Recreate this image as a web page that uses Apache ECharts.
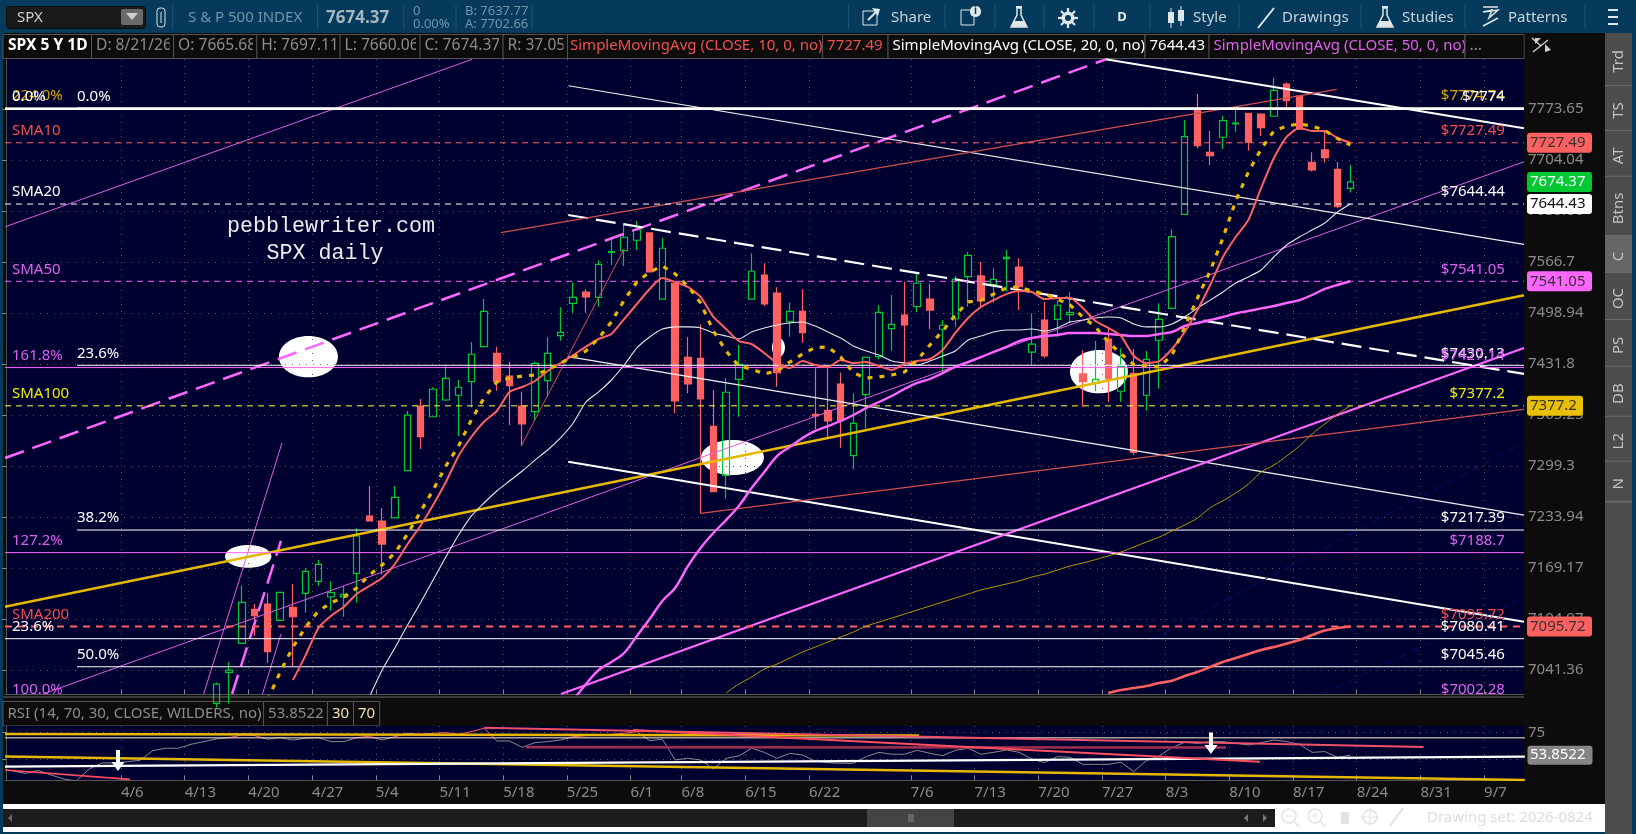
<!DOCTYPE html>
<html><head><meta charset="utf-8"><style>html,body{margin:0;padding:0;background:#053a5c}#c{width:1636px;height:834px}</style>
<script src="https://cdn.jsdelivr.net/npm/echarts@6/dist/echarts.min.js"></script></head>
<body><div id="c"></div><script>
const categories=['3/24','3/25','3/26','3/27','3/30','3/31','4/1','4/2','4/3',
'4/6','4/7','4/8','4/9','4/10','4/13','4/14','4/15','4/16','4/17','4/20','4/21','4/22','4/23','4/24','4/27','4/28','4/29','4/30','5/1',
'5/4','5/5','5/6','5/7','5/8','5/11','5/12','5/13','5/14','5/15','5/18','5/19','5/20','5/21','5/22','5/25','5/26','5/27','5/28','5/29',
'6/1','6/2','6/3','6/4','6/8','6/9','6/10','6/11','6/12','6/15','6/16','6/17','6/18','6/19','6/22','6/23','6/24','6/25','6/26','6/29','6/30','7/1',
'7/6','7/7','7/8','7/9','7/10','7/13','7/14','7/15','7/16','7/17','7/20','7/21','7/22','7/23','7/24','7/27','7/28','7/29','7/30','7/31',
'8/3','8/4','8/5','8/6','8/7','8/10','8/11','8/12','8/13','8/14','8/17','8/18','8/19','8/20','8/21',
'8/24','8/25','8/26','8/27','8/28','8/31','9/1','9/2','9/3','9/4','9/7','9/8','9/9'];
const timeTicks=['4/6','4/13','4/20','4/27','5/4','5/11','5/18','5/25','6/1','6/8','6/15','6/22','7/6','7/13','7/20','7/27','8/3','8/10','8/17','8/24','8/31','9/7'];
const priceTicks=[7773.65,7704.04,7635.06,7566.7,7498.94,7431.8,7365.25,7299.3,7233.94,7169.17,7104.97,7041.36];
const priceRange=[7011.7,7842.5];
const rsiRange=[30.7,81.06];
const rsiTicks=[50,75];
const firstCandle=16;
const opens=[7000,7038.5,7074.7,7117.2,7123.9,7103.3,7119.7,7137.3,7152.4,7133,7132.7,7162.5,7235.2,7228.9,7233,7293.3,7377,7363,7384.8,7391,7408.7,7454.6,7445.9,7416.1,7377,7369.6,7410,7469,7511.8,7526.8,7519.8,7579.7,7581.9,7595.8,7605.6,7517.4,7538.4,7440.6,7439.3,7350.6,7287.4,7411.8,7517.4,7549.4,7525.5,7487.5,7501.2,7366.2,7371.4,7405.7,7312.6,7391.8,7441.4,7478.3,7496.3,7507.3,7517.5,7477.5,7491.4,7547.2,7548.1,7536.5,7571.1,7560,7447.4,7489.7,7490.6,7496.7,7418.8,7406.6,7464.7,7396.2,7419.7,7391,7463,7505.2,7630.6,7772.3,7714.5,7735,7753.2,7767.8,7766.8,7763.7,7807.9,7791.5,7701,7717.7,7691.4,7665.68];
const highs=[7026,7051,7147.4,7123.9,7137.3,7138.6,7149,7168.8,7179.3,7152.4,7146.9,7219.6,7273.7,7245.1,7273.7,7370.5,7386.1,7401.4,7429.2,7410.9,7460.4,7517.4,7454.6,7434.8,7395.7,7434.8,7466.9,7506.5,7539.7,7530.4,7569,7599.8,7618.6,7621.7,7605.6,7598.9,7538.4,7467.4,7484,7397.9,7413.5,7456.8,7578.4,7565,7533.1,7512.4,7530.4,7426.2,7426.2,7420.4,7393.6,7441.4,7509.2,7522.8,7540.5,7550.8,7537.5,7489.7,7548.1,7580.1,7566.7,7558.3,7582.8,7571.7,7498.5,7513.9,7516,7526.4,7449.9,7462.1,7478.8,7452.5,7451.5,7448.9,7511.8,7610.5,7758.6,7794.2,7743.6,7764,7773.2,7767.8,7766.8,7817,7810.2,7791.5,7714.5,7742.6,7701.3,7697.11];
const lows=[6995,7000,7074.7,7084.1,7050.5,7103.3,7046.4,7112.9,7146.9,7115.4,7107.9,7125.4,7228.9,7161.2,7233,7293.3,7321.3,7363,7383.5,7338.1,7375.3,7454.6,7397,7352.3,7325.5,7357.9,7389.1,7462.5,7499.3,7499.3,7507.3,7562.7,7561.4,7582.8,7553.4,7517.4,7367.5,7393.6,7238.7,7266.4,7257.4,7363,7517.4,7508.3,7402,7467.7,7459.9,7347,7336.4,7323,7295.1,7348,7438,7449.3,7430.5,7500.3,7477.9,7421.8,7480.9,7507.3,7506.5,7512.4,7527.2,7502.9,7430.5,7440.1,7467.7,7485.4,7376.1,7396.6,7382.6,7382.6,7313.5,7370.9,7399.6,7505.2,7629.7,7720,7697.3,7719,7742.6,7716.7,7736.8,7763.7,7776,7746,7688.3,7700.5,7638.8,7660.06];
const closes=[7024,7041.4,7126,7109.1,7064.2,7138.6,7107.9,7165,7173.9,7138.1,7136,7209.8,7228.9,7199.6,7259.2,7365.25,7337.2,7398.8,7413.1,7401.4,7444.6,7501.2,7408.7,7403.5,7353.6,7432.7,7445.9,7473.5,7519.8,7520.2,7563.6,7580.5,7599.8,7610,7553.4,7585.1,7383.5,7405.7,7386.1,7266.4,7394.9,7431.4,7554.4,7510.9,7420.4,7501.2,7473,7364,7357.5,7357.9,7354.5,7440.6,7499.9,7484,7483.1,7538.4,7502.9,7482.8,7543.7,7575.7,7514.9,7543.7,7573,7533.9,7457.9,7442.3,7509.2,7499.9,7408.7,7411.8,7412.2,7428.8,7317,7438,7490.6,7600.6,7735.8,7723.5,7709.9,7757.7,7754.5,7728.2,7748.2,7799.3,7785,7746,7690.6,7707.2,7641,7674.37];
const sma10Start=22;
const sma10=[7029,7060,7093.8,7109.1,7120.5,7136.4,7146.5,7156.6,7174.2,7199.6,7222.5,7249.3,7278.8,7312.2,7336.8,7356.6,7370.5,7395.3,7401.8,7409.6,7422.7,7433.1,7443.6,7454.6,7464.7,7471.3,7491,7510.9,7530.8,7545.4,7540.1,7533.5,7520.2,7493.7,7477.9,7462,7458.1,7446.3,7433.1,7426.6,7435.7,7430.5,7427.9,7437,7433.1,7434.4,7429.2,7424,7431.8,7435.7,7438.4,7450.2,7472.6,7492.4,7506.9,7516,7524,7528,7526.8,7517.4,7518.8,7518.8,7505.6,7488.4,7479.2,7468.6,7442.3,7433.1,7435.7,7451.5,7473.9,7502.9,7536.1,7573.4,7600.2,7623,7666.2,7706.8,7735.4,7747.7,7743.6,7743.6,7734,7727.49];
const sma20Start=28;
const sma20=[7008,7041.4,7068.8,7097.5,7125.1,7154.1,7183.1,7211.1,7235.2,7251.9,7267.3,7280.1,7292.9,7307,7320,7335.5,7354.9,7382.2,7395.3,7410.9,7430.5,7452.9,7467.3,7477.9,7480.6,7480.6,7479.2,7472.6,7468.6,7464.7,7473.9,7479.2,7483.1,7485.8,7487.1,7481.8,7473.9,7466,7455.5,7448.9,7443.6,7435.7,7433.1,7430.5,7435.7,7442.3,7448.9,7463.4,7468.6,7473.9,7476.6,7476.6,7477.9,7475.3,7479.2,7487.1,7489.7,7492.4,7493.7,7492.4,7484.5,7480.6,7480.6,7484.5,7493.7,7505.6,7516,7526.8,7538.8,7546.8,7556.1,7573.4,7589.5,7600.2,7609.6,7619,7633.7,7644.43];
const sma50Start=44;
const sma50=[7004,7024,7041.4,7051.4,7062.6,7083.8,7105,7127.7,7144,7171.7,7194.6,7213.6,7230.1,7248,7271.1,7291.6,7312.2,7323.9,7335.5,7344.6,7351,7357.5,7365.25,7374.4,7382.2,7390,7399.2,7407,7412.2,7420,7427.9,7434.4,7441,7447.6,7454.2,7462,7466,7468.6,7470,7472.6,7472.6,7472.6,7471.3,7470,7468.6,7468.6,7471.3,7473.9,7481.8,7485.8,7489.7,7493.7,7498.3,7501.6,7505,7508.3,7512.2,7516,7522.8,7530.8,7536.1,7541.05];
const sma100Start=56;
const sma100=[7012.9,7024,7032.7,7042.6,7048.8,7056.3,7063.8,7070,7076.3,7082.5,7088.8,7096.2,7101.2,7106.2,7111.2,7116.3,7121.3,7126.4,7131.4,7136.4,7141.5,7145.2,7149,7152.8,7157.8,7161.6,7166.6,7171.7,7175.5,7179.9,7184.4,7189.5,7195.8,7202.2,7208.5,7216.2,7223.8,7232.7,7245.8,7254.7,7264.7,7276.2,7291.6,7300.6,7312.2,7325.1,7340.7,7353.6,7366.5,7377.2];
const sma200Start=86;
const sma200=[7012.9,7016.6,7019.1,7021.6,7025.3,7028.1,7034,7038.9,7045.1,7051.4,7056.3,7061.3,7066.3,7070,7074.4,7078.7,7085,7090.6,7093.7,7095.72];
const fastAvgStart=20;
const fastAvg=[7004.3,7038.9,7070,7095,7115.2,7125.3,7132.8,7144,7160.4,7173,7188.2,7212.4,7240.4,7268.5,7299.3,7325.2,7358.8,7387.4,7408.3,7413.5,7416.1,7417.4,7424,7433.1,7441,7448.9,7466,7487.1,7516,7540.1,7553.4,7561.4,7550.8,7534.8,7512.2,7475.2,7448.9,7429.2,7425.3,7418.8,7422.7,7434.4,7445,7453.5,7454.2,7441,7420,7413.5,7414.8,7417.4,7421.3,7437,7456.8,7475.2,7496.3,7513.6,7516,7524,7532.2,7533.5,7528.2,7524,7517.4,7509.6,7493.7,7480.5,7460.7,7445,7431.2,7429.2,7427.9,7443.6,7480.5,7518.8,7554.7,7598.9,7648.6,7687.8,7719,7743.6,7750.4,7753.2,7750.4,7744.3,7733.3,7724.4];
const rsiValues=[39.1,36.9,39.7,35.4,31.7,29.8,41,46.6,46.6,47.8,49.1,58.1,60.3,60.3,64,66.5,69,70.2,72.7,72.1,68.7,70.2,68,69.6,70.2,66.5,66.5,70.2,71.5,68,71.1,74.3,73.3,74.3,74.9,73.3,75.8,78.9,67.1,67.1,61.2,65.5,66.5,68,71.1,72.1,72.7,73.3,74.3,75.8,67.4,68.7,49.4,50.9,49.4,41,50.9,53.1,60.3,56.5,50.9,55.6,54,48.4,46.9,46.3,46.3,52.5,56.5,54.7,54.7,58.4,55.6,53.4,58.4,60.3,54.7,56.5,58.7,56.5,50.3,46.9,52.5,51.9,45.3,45.3,45.3,47.2,38.5,48.8,53.1,60.9,65.9,64.9,66.5,66.5,64.9,63.4,65.5,68,66.5,64,56.5,57.2,51.9,53.8522];
// price levels: [price, starts at bar, left caption, right caption]
const levelPrices=[7774.74,7774,7774,7727.49,7644.44,7541.05,7430.13,7427.14,7377.2,7217.39,7188.7,7095.72,7080.41,7045.46,7002.28];
const levelStarts=[-0.1,-0.1,5.55,-0.1,-0.1,-0.1,5.55,-0.1,-0.1,5.55,-0.1,-0.1,-0.1,5.55,-0.1];
const levelLeft=['224.0%','0.0%','0.0%','SMA10','SMA20','SMA50','23.6%','161.8%','SMA100','38.2%','127.2%','SMA200','23.6%','50.0%','100.0%'];
const levelRight=['$7774.74','','$7774','$7727.49','$7644.44','$7541.05','$7430.13','$7427.14','$7377.2','$7217.39','$7188.7','$7095.72','$7080.41','$7045.46','$7002.28'];
// drawn trend lines in [bar, price]
const trendEnds={
 upperThin:[[-0.07,7614],[36.55,7842]],
 channelDash:[[-0.1,7309.6],[86.3,7842]],
 steepDash:[[17.72,7011.7],[21.56,7203.5]],
 steepA:[[15.49,7011.7],[21.64,7329]],
 steepB:[[20.11,7011.7],[21.56,7086.3]],
 midThin:[[2.88,7011.7],[119.13,7701.7]],
 goldTrend:[[-0.1,7120.3],[119.13,7522.6]],
 downTop:[[86.3,7842],[119.13,7747.3]],
 downThin1:[[44.13,7805.6],[119.13,7590.4]],
 downDash:[[44.11,7629.7],[119.13,7418.8]],
 downThin2:[[44.11,7441.4],[119.13,7236.5]],
 downLow:[[44.11,7304.9],[119.13,7101.6]],
 lowerMagenta:[[43.54,7011.7],[119.13,7452.9]],
 redUpper:[[38.83,7606],[104.43,7800.6]],
 redSteep:[[40.43,7325.6],[48.51,7584.7]],
 redLower:[[54.5,7238.7],[119.13,7372.7]],
 faintA:[[89.77,7078.8],[119.13,7329.4]],
 faintB:[[103.35,7011.7],[118.6,7127.7]]
};
const ellipseBounds=[[21.4,7468.6,26.03,7414.4],[17.17,7198.3,20.81,7169.6],[54.53,7333,59.47,7287.8],[83.49,7450.2,88.04,7393.6],[60.1,7466,61.12,7441]];
const rsiLines={
 goldTop:[[-0.1,73.6],[71.64,72.1]],
 goldLow:[[-0.1,52.5],[119.2,30.7]],
 whiteRise:[[-0.1,43.2],[119.2,52.5]],
 obLine:[[-0.1,70],[119.2,70]],
 redA:[[37.5,79.5],[111.25,61.5]],
 maroon:[[40.76,61.2],[95.74,60.9]],
 redB:[[49.2,77.4],[98.4,47.8]],
 redC:[[-0.1,40],[9.71,31.3]]
};
const rsiArrows=[[8.77,58.7,39],[94.56,74.9,55]];
const priceTags=[7727.49,7674.37,7644.43,7541.05,7377.2,7095.72];

/* ---------- styles ---------- */
const GREEN='#00c832',RED='#ff6060',MAG='#ff66ff',GOLD='#e6b800',BG='#000030',AX='#8c8c8c';
const FONT='"Noto Sans"';
const levelStyle=[
 {c:GOLD,t:'#d4a800',w:1},{c:'#ffffff',t:'#ffffff',w:2.4},{c:'#ffffff',t:'#ffffff',w:2.4},
 {c:RED,t:'#f25050',w:1,d:[6,5]},{c:'#ffffff',t:'#ffffff',w:1,d:[6,5]},{c:MAG,t:'#e060f0',w:1,d:[6,5]},
 {c:'#ffffff',t:'#ffffff',w:1},{c:MAG,t:'#e060f0',w:1},{c:'#ffff33',t:'#eeee00',w:1,d:[6,5]},
 {c:'#ffffff',t:'#ffffff',w:1},{c:MAG,t:'#e060f0',w:1},{c:RED,t:'#f25050',w:2,d:[7,6]},
 {c:'#ffffff',t:'#ffffff',w:1},{c:'#ffffff',t:'#ffffff',w:1},{c:MAG,t:'#e060f0',w:1,off:true}];
const trendStyle={
 upperThin:{c:'#e060e0',w:1},channelDash:{c:MAG,w:2.5,d:[20,9]},steepDash:{c:MAG,w:2.5,d:[20,9]},steepA:{c:'#e060e0',w:1},steepB:{c:'#e060e0',w:1},
 midThin:{c:'#e060e0',w:1},goldTrend:{c:GOLD,w:2.5},downTop:{c:'#ffffff',w:2},downThin1:{c:'#f0f0f0',w:1.2},downDash:{c:'#ffffff',w:2.2,d:[20,8]},
 downThin2:{c:'#f0f0f0',w:1.2},downLow:{c:'#ffffff',w:2},lowerMagenta:{c:MAG,w:2.2},redUpper:{c:'#d05050',w:1.2},redSteep:{c:'#d05050',w:1},
 redLower:{c:'#d05050',w:1.2},faintA:{c:'#0c0c70',w:1,d:[8,6]},faintB:{c:'#0c0c70',w:1,d:[8,6]}};
const rsiStyle={goldTop:{c:GOLD,w:2.5},goldLow:{c:GOLD,w:2.5},whiteRise:{c:'#ffffff',w:2.2},obLine:{c:'#fff3d0',w:1},redA:{c:'#f0506a',w:2},maroon:{c:'#a03050',w:2.5},redB:{c:'#ff5060',w:2},redC:{c:'#ff5060',w:1.6}};

/* ---------- helpers ---------- */
const L=Math.log;
const N=categories.length;
const pad=(start,a)=>{const o=new Array(N).fill(null);a.forEach((v,i)=>{o[start+i]=L(v)});return o.map(v=>v===null?'-':v)};
const candleData=categories.map((c,i)=>{const k=i-firstCandle;return (k>=0&&k<opens.length)?[L(opens[k]),L(closes[k]),L(lows[k]),L(highs[k])]:['-','-','-','-']});
const uMin=-0.102,uMax=119.13;
const tickU=timeTicks.map(t=>categories.indexOf(t));
const dotted={show:true,lineStyle:{color:'#5a5a5a',type:[1,6],width:1}};

const series=[];
series.push({type:'custom',name:'marks',xAxisIndex:0,yAxisIndex:0,z:-1,silent:true,encode:{x:[0,2],y:[1,3]},
 data:ellipseBounds.map(e=>[e[0],L(e[1]),e[2],L(e[3])]),
 renderItem(p,api){const a=api.coord([api.value(0),api.value(1)]),b=api.coord([api.value(2),api.value(3)]);
  return {type:'ellipse',shape:{cx:(a[0]+b[0])/2,cy:(a[1]+b[1])/2,rx:Math.abs(b[0]-a[0])/2,ry:Math.abs(b[1]-a[1])/2},style:{fill:'#ffffff'}}}});
series.push({type:'candlestick',name:'SPX',xAxisIndex:1,yAxisIndex:1,z:1,barWidth:7,data:candleData,silent:true,
 itemStyle:{color:'rgba(0,0,0,0)',color0:RED,borderColor:GREEN,borderColor0:RED,borderWidth:1.2}});
levelPrices.forEach((p,i)=>{const s=levelStyle[i];if(s.off)return;
 series.push({type:'line',name:'level'+i,xAxisIndex:0,yAxisIndex:0,z:3,symbol:'none',silent:true,data:[[levelStarts[i],L(p)],[uMax,L(p)]],
  lineStyle:{color:s.c,width:s.w,type:s.d||'solid'}})});
Object.keys(trendEnds).forEach(k=>{const s=trendStyle[k];
 series.push({type:'line',name:k,xAxisIndex:0,yAxisIndex:0,z:2,symbol:'none',silent:true,data:trendEnds[k].map(e=>[e[0],L(e[1])]),
  lineStyle:{color:s.c,width:s.w,type:s.d||'solid'}})});
const ma=(name,start,vals,c,w,d,sm)=>series.push({type:'line',name,xAxisIndex:1,yAxisIndex:1,z:4,symbol:'none',silent:true,smooth:sm||false,data:pad(start,vals),lineStyle:{color:c,width:w,type:d||'solid'}});
ma('SMA200',sma200Start,sma200,RED,2.6,null,0.4);
ma('SMA100',sma100Start,sma100,'#b89a00',1,null,0.4);
ma('SMA50',sma50Start,sma50,MAG,2.4,null,0.4);
ma('SMA20',sma20Start,sma20,'#e8e8e8',1.1,null,0.2);
ma('SMA10',sma10Start,sma10,RED,2,null,0.2);
ma('avgFast',fastAvgStart,fastAvg,GOLD,3.2,[5,7]);
// captions
const caps=[];
levelPrices.forEach((p,i)=>{caps.push({u:levelStarts[i]<0?0.45:levelStarts[i],p,t:levelLeft[i],c:levelStyle[i].t,a:'left'});
 if(levelRight[i])caps.push({u:117.63,p,t:levelRight[i],c:levelStyle[i].t,a:'right'})});
series.push({type:'custom',name:'captions',xAxisIndex:0,yAxisIndex:0,z:5,silent:true,clip:false,encode:{x:0,y:1},
 data:caps.map(c=>[c.u,L(c.p)]),
 renderItem(p,api){const q=api.coord([api.value(0),api.value(1)]),c=caps[p.dataIndex];
  return {type:'text',style:{x:q[0],y:q[1]-12,text:c.t,fill:c.c,font:'15px '+FONT,textAlign:c.a,textVerticalAlign:'middle'}}}});
// right-hand price tags
const tagColor={7727.49:[RED,'#333'],7674.37:['#00c832','#fff'],7644.43:['#ffffff','#111'],7541.05:[MAG,'#333'],7377.2:['#e8c000','#333'],7095.72:[RED,'#333']};
series.push({type:'custom',name:'tags',xAxisIndex:0,yAxisIndex:0,z:6,silent:true,clip:false,encode:{x:0,y:1},
 data:priceTags.map(p=>[uMax,L(p)]),
 renderItem(p,api){const q=api.coord([api.value(0),api.value(1)]),v=priceTags[p.dataIndex],col=tagColor[v],w=String(v).length<7?56:65;
  return {type:'group',children:[
   {type:'rect',shape:{x:q[0]+3,y:q[1]-10,width:w,height:20,r:3},style:{fill:col[0]}},
   {type:'text',style:{x:q[0]+6,y:q[1],text:String(v),fill:col[1],font:'15px '+FONT,textVerticalAlign:'middle'}}]}}});
// RSI
series.push({type:'line',name:'RSI',xAxisIndex:2,yAxisIndex:2,z:2,symbol:'none',silent:true,data:rsiValues.map((v,i)=>[i+0.5,v]),lineStyle:{width:1}});
Object.keys(rsiLines).forEach(k=>{const s=rsiStyle[k];
 series.push({type:'line',name:k,xAxisIndex:2,yAxisIndex:2,z:3,symbol:'none',silent:true,data:rsiLines[k],lineStyle:{color:s.c,width:s.w}})});
series.push({type:'custom',name:'arrows',xAxisIndex:2,yAxisIndex:2,z:5,silent:true,clip:false,encode:{x:0,y:[1,2]},data:rsiArrows,
 renderItem(p,api){const a=api.coord([api.value(0),api.value(1)]),b=api.coord([api.value(0),api.value(2)]);const x=a[0],t=a[1],e=b[1];
  return {type:'polygon',shape:{points:[[x-2,t],[x+2,t],[x+2,e-9],[x+6.5,e-9],[x,e],[x-6.5,e-9],[x-2,e-9]]},style:{fill:'#ffffff'}}}});
// RSI tag
series.push({type:'custom',name:'rsiTag',xAxisIndex:2,yAxisIndex:2,z:6,silent:true,clip:false,encode:{x:0,y:1},data:[[uMax,rsiValues[rsiValues.length-1]]],
 renderItem(p,api){const q=api.coord([api.value(0),api.value(1)]);
  return {type:'group',children:[{type:'rect',shape:{x:q[0]+3.5,y:q[1]-9.5,width:65,height:19,r:3},style:{fill:'#858585'}},
   {type:'text',style:{x:q[0]+6,y:q[1],text:String(api.value(1)),fill:'#fff',font:'15px '+FONT,textVerticalAlign:'middle'}}]}}});

/* ---------- chrome ---------- */
const g=[];let zi=0;const nz=()=>-5+(zi++)*0.0005;
const rect=(x,y,w,h,fill,stroke,r)=>g.push({type:'rect',silent:true,z:nz(),shape:{x,y,width:w,height:h,r:r||0},style:{fill:fill||'none',stroke:stroke||null,lineWidth:1}});
const txt=(x,y,t,fill,size,extra)=>g.push(Object.assign({type:'text',silent:true,z:nz(),style:Object.assign({x,y,text:t,fill,font:(extra&&extra.w?extra.w+' ':'')+(size||15)+'px '+FONT,textVerticalAlign:'middle'},extra&&extra.s)},extra&&extra.e));
const ln=(x1,y1,x2,y2,c,w)=>g.push({type:'line',silent:true,z:nz(),shape:{x1,y1,x2,y2},style:{stroke:c,lineWidth:w||1}});
const poly=(pts,fill,stroke,w)=>g.push({type:'polygon',silent:true,z:nz(),shape:{points:pts},style:{fill:fill||'none',stroke:stroke||null,lineWidth:w||1}});

rect(3,33,1602,771,'#0c0c0c');
// toolbar
const sepTop=[172.6,317.5,403.8,456,532,848.6,945,995,1044,1094,1150,1239,1361,1465,1585];
sepTop.forEach(x=>ln(x,5,x,29,'#1c5474'));
rect(6.5,6.5,139,22,'#1a1a1a','#0a0a0a',3);
txt(17,18,'SPX','#d0d0d0',15);
rect(121,9,22,16,'#6a6a6a',null,2);poly([[126,13],[138,13],[132,20]],'#cfcfcf');
rect(157,8,8,19,'none','#d8e0e4',3);ln(161,12,161,23,'#d8e0e4');
txt(188,18,'S & P 500 INDEX','#6f95aa',15);
txt(326,18,'7674.37','#a4b6c0',17,{w:'bold'});
txt(413,11,'0','#6f95aa',13);txt(413,24,'0.00%','#6f95aa',13);
txt(465,11,'B: 7637.77','#6f95aa',13);txt(465,24,'A: 7702.66','#6f95aa',13);
const TB='#dfe6ea';
rect(863,11,14,14,'none',TB);ln(868,20,878,10,TB,2);poly([[872,8],[880,9],[878,16]],TB);
txt(891,18,'Share','#c8d4da',15);
rect(961,10,13,15,'none',TB);rect(970,6,11,11,TB,null,5);txt(975.5,11.5,'i','#053a5c',10,{w:'bold',s:{textAlign:'center'}});
const flask=(x)=>{rect(x-3,6,6,2,TB);poly([[x-2,8],[x+2,8],[x+2,15],[x+8,27],[x-8,27],[x-2,15]],null,TB,1.5);poly([[x-5,21],[x+5,21],[x+8,27],[x-8,27]],TB)};
flask(1019);
g.push({type:'circle',silent:true,z:nz(),shape:{cx:1068,cy:18,r:5},style:{fill:'none',stroke:TB,lineWidth:3}});
[[1068,8,1068,28],[1058,18,1078,18],[1061,11,1075,25],[1061,25,1075,11]].forEach(a=>ln(a[0],a[1],a[2],a[3],TB,2.2));
g.push({type:'circle',silent:true,z:nz(),shape:{cx:1068,cy:18,r:4},style:{fill:'#053a5c',stroke:TB,lineWidth:2}});
txt(1122,17.5,'D','#e8eef0',13,{w:'bold',s:{textAlign:'center'}});
ln(1171,8,1171,28,TB);rect(1168,12,6,11,TB);ln(1181,6,1181,26,TB);rect(1178,10,6,11,TB);
txt(1193,18,'Style','#c8d4da',15);
ln(1258,28,1274,8,TB,2);txt(1282,18,'Drawings','#c8d4da',15);
flask(1385);txt(1402,18,'Studies','#c8d4da',15);
ln(1483,7,1498,7,TB,1.5);poly([[1483,12],[1492,10],[1489,18],[1498,10]],null,TB,1.5);ln(1483,26,1498,18,TB,1.5);
txt(1508,18,'Patterns','#c8d4da',15);
[10,17,24].forEach(y=>{ln(1608,y,1618,y,TB,2)});
// legend row: each cell hides the tail of the text before it; short cells keep 4px of padding
const hy=46;
const cells=[[3,91.5,'SPX 5 Y 1D','#ffffff','bold',8],[91.5,173.6,'D: 8/21/26',AX],[173.6,256.8,'O: 7665.68',AX],[256.8,340,'H: 7697.11',AX],[340,420,'L: 7660.06',AX],[420,503,'C: 7674.37',AX],[503,567.5,'R: 37.05',AX],
 [567.5,822.6,'SimpleMovingAvg (CLOSE, 10, 0, no)','#f25050',null,570,15],[822.6,888,'7727.49','#f25050',null,0,15],[888,1145,'SimpleMovingAvg (CLOSE, 20, 0, no)','#ffffff',null,0,15],[1145,1209,'7644.43','#ffffff',null,0,15],[1209,1465,'SimpleMovingAvg (CLOSE, 50, 0, no)','#e060f0',null,0,15],[1465,1524,'...',AX]];
cells.forEach(c=>{rect(c[0],34.5,c[1]-c[0],24,'#0c0c0c','#555');txt(c[5]||c[0]+4.5,hy,c[2],c[3],c[6]||15.6,c[4]?{w:c[4]}:null);
 if(c[1]-c[0]<90)rect(c[1]-4,35,3.5,23,'#0c0c0c')});
// sync icon
ln(1532,38,1541,46,'#d0d0d0',1.5);ln(1533,52,1548,40,'#d0d0d0',1.5);poly([[1545,44],[1551,50],[1545,52]],'#d0d0d0');poly([[1535,38],[1541,38],[1535,44]],'#d0d0d0');
// RSI legend row
const rc=[[3,263.6,'RSI (14, 70, 30, CLOSE, WILDERS, no)',AX],[263.6,327.4,'53.8522',AX],[327.4,353.5,'30','#f0e0b0'],[353.5,379.7,'70','#f0e0b0']];
rc.forEach(c=>{rect(c[0],701.5,c[1]-c[0],24.5,'#0c0c0c','#555');txt(c[0]+4.5,714,c[2],c[3],15)});
ln(3,697,1524,697,'#3a3a3a',2);
// bottom strips
rect(3,804,1602,5,'#ffffff');rect(3,827,1602,5,'#ffffff');rect(3,809,1272,18,'#1c1c1c');rect(1275,809,330,18,'#ffffff');
rect(867,809,87,18,'#444444');[909,911,913].forEach(x=>ln(x,814,x,822,'#888'));
poly([[12,814],[12,822],[8,818]],'#666');poly([[1248,814],[1248,822],[1244,818]],'#777');poly([[1263,814],[1263,822],[1267,818]],'#777');
const LG='#e2e2e2';
[1289,1315].forEach(x=>{g.push({type:'circle',silent:true,z:nz(),shape:{cx:x,cy:816,r:7},style:{fill:'none',stroke:LG,lineWidth:1.5}});ln(x+5,821,x+10,827,LG,1.5);ln(x-3,816,x+3,816,LG)});
ln(1315,813,1315,819,LG);
rect(1341,812,8,12,LG);
g.push({type:'circle',silent:true,z:nz(),shape:{cx:1370,cy:817,r:7},style:{fill:'none',stroke:LG,lineWidth:1.5}});ln(1370,808,1370,826,LG);ln(1361,817,1379,817,LG);
ln(1390,826,1403,808,LG,2);
txt(1427,818,'Drawing set: 2026-0824','#dcdcdc',15);
// side tabs
rect(1605,33,27,801,'#4c4c4c');
const tabs=[[33,86,'Trd'],[86,131,'TS'],[131,176.7,'AT'],[176.7,236,'Btns'],[236,273,'C'],[273,320,'OC'],[320,366.7,'PS'],[366.7,416.7,'DB'],[416.7,461.7,'L2'],[461.7,501.7,'N']];
tabs.forEach(t=>{rect(1605,t[0],27,t[1]-t[0]-1,t[2]==='C'?'#666666':'#4c4c4c');ln(1605,t[1],1632,t[1],'#6a6a6a',2);
 const cy=(t[0]+t[1])/2+2;
 g.push({type:'text',silent:true,z:nz(),x:1619,y:cy,rotation:Math.PI/2,style:{x:0,y:0,text:t[2],fill:'#c4c4c4',font:'15px '+FONT,textAlign:'center',textVerticalAlign:'middle'}})});
// watermark
const mono='"Liberation Mono"';
g.push({type:'text',silent:true,z:nz()+9,style:{x:331,y:226.7,text:'pebblewriter.com',fill:'#ececec',font:'21.7px '+mono,textAlign:'center',textVerticalAlign:'middle'}});
g.push({type:'text',silent:true,z:nz()+9,style:{x:325,y:253,text:'SPX daily',fill:'#ececec',font:'21.7px '+mono,textAlign:'center',textVerticalAlign:'middle'}});

const option={animation:false,backgroundColor:'#053a5c',graphic:{elements:g},
 grid:[{left:5,top:59,width:1519,height:635,show:true,backgroundColor:BG,borderWidth:0,z:-2},
       {left:6.3,top:59,width:1516,height:635,show:false},
       {left:5,top:726,width:1519,height:54,show:true,backgroundColor:BG,borderWidth:0,z:-2}],
 xAxis:[
  {type:'value',gridIndex:0,min:uMin,max:uMax,position:'bottom',axisLine:{show:true,lineStyle:{color:'#555'}},axisLabel:{show:false},
   axisTick:{show:true,inside:true,length:4,customValues:tickU,lineStyle:{color:'#888'}},splitLine:dotted,z:0},
  {type:'category',gridIndex:1,data:categories,show:false,boundaryGap:true},
  {type:'value',gridIndex:2,min:uMin,max:uMax,position:'bottom',axisLine:{show:true,lineStyle:{color:'#555'}},
   axisTick:{show:true,inside:true,length:4,customValues:tickU,lineStyle:{color:'#888'}},splitLine:dotted,
   axisLabel:{show:true,customValues:tickU,hideOverlap:false,showMinLabel:true,showMaxLabel:true,align:'left',margin:5,color:AX,fontFamily:FONT,fontSize:15,formatter:v=>categories[v]}}
 ],
 yAxis:[
  {type:'value',gridIndex:0,position:'right',min:L(priceRange[0]),max:L(priceRange[1]),scale:true,axisLine:{show:true,lineStyle:{color:'#555'}},
   axisTick:{show:true,inside:true,length:4,customValues:priceTicks.map(L),lineStyle:{color:'#888'}},splitLine:dotted,
   axisLabel:{show:true,customValues:priceTicks.map(L),inside:false,margin:4,color:AX,fontFamily:FONT,fontSize:15,formatter:v=>String(+Math.exp(v).toFixed(2))}},
  {type:'value',gridIndex:1,min:L(priceRange[0]),max:L(priceRange[1]),scale:true,show:false,splitLine:{show:false}},
  {type:'value',gridIndex:2,position:'right',min:rsiRange[0],max:rsiRange[1],scale:true,axisLine:{show:true,lineStyle:{color:'#555'}},
   axisTick:{show:true,inside:true,length:4,customValues:rsiTicks,lineStyle:{color:'#888'}},splitLine:dotted,
   axisLabel:{show:true,customValues:rsiTicks,margin:4,color:AX,fontFamily:FONT,fontSize:15}}
 ],
 visualMap:[{show:false,type:'piecewise',seriesIndex:series.findIndex(s=>s.name==='RSI'),dimension:1,
   pieces:[{lt:30,color:'#22d8e8'},{gte:30,lte:70,color:'#8a8a8a'},{gt:70,color:'#ff6060'}]}],
 series};
echarts.init(document.getElementById('c'),null,{renderer:'canvas'}).setOption(option);
</script></body></html>
